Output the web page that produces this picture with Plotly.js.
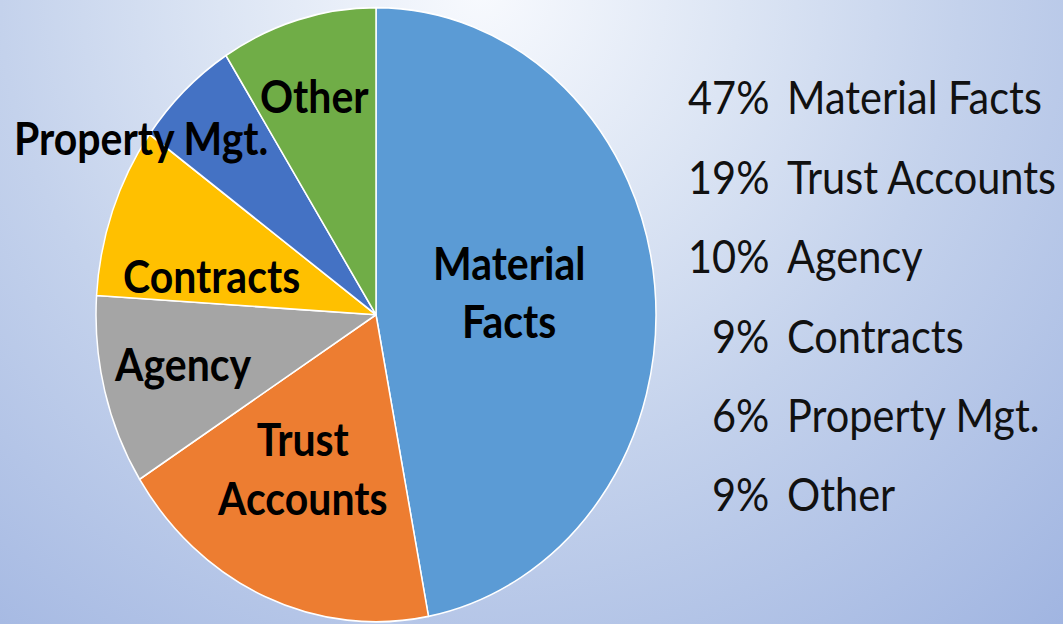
<!DOCTYPE html>
<html>
<head>
<meta charset="utf-8">
<script src="https://cdn.plot.ly/plotly-3.0.1.min.js"></script>
<style>
  html, body { margin: 0; padding: 0; }
  body {
    width: 1063px; height: 624px; overflow: hidden;
    background: radial-gradient(circle at 480px -10px, #F8FAFE 0px, #DCE5F4 260px, #C4D2EC 480px, #9DB2E0 900px);
  }
  #chart { width: 1063px; height: 569px; transform: scaleY(1.09666); transform-origin: 0 0; }
</style>
</head>
<body>
<div id="chart"></div>
<script>
// ---- data ----
const categories = ["Material Facts", "Trust Accounts", "Agency", "Contracts", "Property Mgt.", "Other"];
const shares = [47, 19, 10, 9, 6, 9];
const sliceText = ["Material<br>Facts", "Trust<br>Accounts", "Agency", "Contracts", "Property Mgt.", "Other"];
const colors = ["#5B9BD5", "#ED7D31", "#A5A5A5", "#FFC000", "#4472C4", "#70AD47"];

// ---- layout helpers (final pixel coords -> paper coords) ----
const W = 1063, H = 569, SY = 624 / 569;
const px = (x, y) => ({ x: x / W, y: 1 - (y / SY) / H });

const sliceLabelPos = [[509, 292], [302, 468], [183, 364], [211, 276], [141, 138], [314, 96]];

const annotations = [];
categories.forEach((c, i) => {
  const p = px(sliceLabelPos[i][0], sliceLabelPos[i][1]);
  annotations.push({
    xref: 'paper', yref: 'paper', x: p.x, y: p.y, xanchor: 'center', yanchor: 'middle',
    text: sliceText[i], showarrow: false, align: 'center',
    font: { family: 'Lato, "Open Sans", sans-serif', size: 41, color: '#000', weight: 'bold' }
  });
});
categories.forEach((c, i) => {
  const yy = 97 + i * 79.4;
  const pp = px(771, yy), pn = px(785, yy);
  annotations.push({
    xref: 'paper', yref: 'paper', x: pp.x, y: pp.y, xanchor: 'right', yanchor: 'middle',
    text: shares[i] + '%', showarrow: false,
    font: { family: 'Lato, "Open Sans", sans-serif', size: 41.5, color: '#111' }
  });
  annotations.push({
    xref: 'paper', yref: 'paper', x: pn.x, y: pn.y, xanchor: 'left', yanchor: 'middle',
    text: c, showarrow: false,
    font: { family: 'Lato, "Open Sans", sans-serif', size: 41.5, color: '#111' }
  });
});

const cx = 376, r = 280;
const trace = {
  type: 'pie',
  labels: categories,
  values: shares,
  sort: false,
  direction: 'clockwise',
  rotation: 0,
  textinfo: 'none',
  hoverinfo: 'label+percent',
  marker: { colors: colors, line: { color: '#FFFFFF', width: 1.5 } },
  domain: { x: [(cx - r) / W, (cx + r) / W], y: [1 - (7 + 2 * r) / H, 1 - 7 / H] },
  showlegend: false
};

Plotly.newPlot('chart', [trace], {
  width: W, height: H,
  margin: { l: 0, r: 0, t: 0, b: 0 },
  paper_bgcolor: 'rgba(0,0,0,0)', plot_bgcolor: 'rgba(0,0,0,0)',
  showlegend: false,
  annotations: annotations
}, { displayModeBar: false, staticPlot: true });
</script>
</body>
</html>
